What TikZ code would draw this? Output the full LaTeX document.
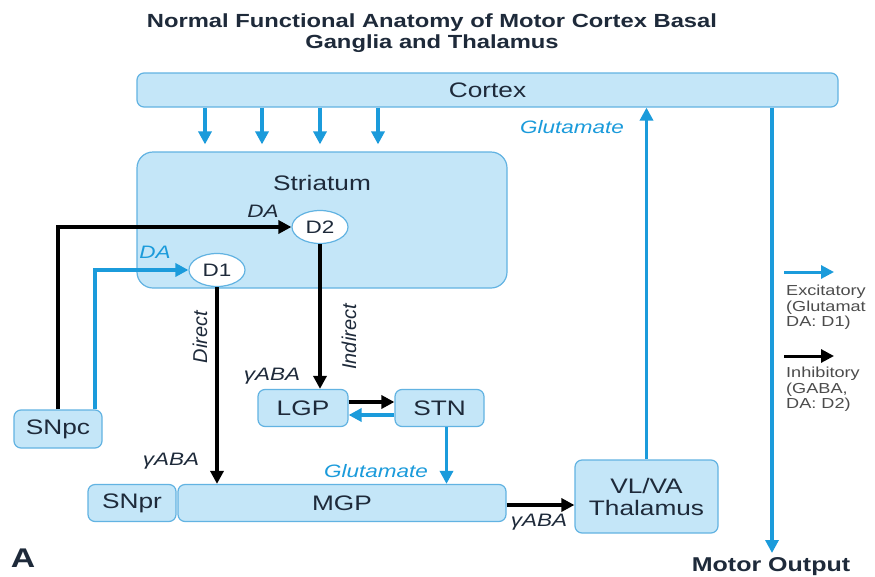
\documentclass[tikz,border=0pt]{standalone}
\usepackage{fontspec}
\setmainfont{Liberation Sans}[FakeStretch=1.25]
\newfontfamily\rotfont{Liberation Sans}
\usetikzlibrary{arrows.meta,shapes.geometric,calc}
\definecolor{boxfill}{HTML}{C4E6F8}
\definecolor{boxdraw}{HTML}{62B3E2}
\definecolor{exc}{HTML}{1B9BDB}
\definecolor{txt}{HTML}{1E2A3A}
\begin{document}
\begin{tikzpicture}[x=1pt,y=-1pt,
  box/.style={draw=boxdraw,fill=boxfill,line width=1.2pt,rounded corners=7pt,inner sep=0pt,font=\fontsize{21}{23}\selectfont,text=txt},
  recep/.style={ellipse,draw=boxdraw,fill=white,line width=1.2pt,minimum width=56pt,minimum height=33pt,inner sep=0pt,font=\fontsize{18}{20}\selectfont,text=txt},
  inh/.style={draw=black,line width=3.5pt,-{Triangle[length=13pt,width=13pt]}},
  excit/.style={draw=exc,line width=3.5pt,-{Triangle[length=13pt,width=13pt]}},
  lab/.style={font=\fontsize{18}{20}\selectfont\itshape,inner sep=0pt},
  rlab/.style={font=\rotfont\fontsize{20}{22}\selectfont\itshape,inner sep=0pt,rotate=90},
  leg/.style={font=\fontsize{14.5}{15.5}\selectfont,text=black!70,align=left,anchor=north west,inner sep=0pt}]
\useasboundingbox (0,0) rectangle (875,576);
\fill[white] (0,0) rectangle (875,576);

% title
\node[font=\fontsize{19}{21}\selectfont\bfseries,align=center,text=txt] (title) at (432,33)
  {Normal Functional Anatomy of Motor Cortex Basal\\Ganglia and Thalamus};

% boxes
\node[box,minimum width=701pt,minimum height=34pt] (cortex) at (487.5,90) {Cortex};
\node[box,rounded corners=16pt,minimum width=370pt,minimum height=136pt] (striatum) at (322,220) {};
\node[font=\fontsize{21}{23}\selectfont,text=txt] (striatumlab) at (322,183) {Striatum};
\node[recep] (D2) at (320,227) {D2};
\node[recep] (D1) at (217,270) {D1};
\node[box,minimum width=88pt,minimum height=38pt] (SNpc) at (58,429) {SNpc};
\node[box,minimum width=90pt,minimum height=37pt] (LGP) at (303,408) {LGP};
\node[box,minimum width=89pt,minimum height=37pt] (STN) at (439.5,408) {STN};
\node[box,minimum width=88pt,minimum height=37pt] (SNpr) at (132,503) {SNpr};
\node[box,minimum width=328pt,minimum height=37pt] (MGP) at (342,503) {MGP};
\node[box,minimum width=143pt,minimum height=73pt,align=center,font=\fontsize{21}{22}\selectfont] (VL) at (646.5,496.5) {VL/VA\\Thalamus};

% cortex -> striatum
\foreach \xx in {205,262,320,378}{
  \draw[excit,shorten >=7pt] (\xx,0 |- cortex.south) -- (\xx,0 |- striatum.north);
}

% SNpc -> D2 / D1
\draw[inh] (SNpc.north) |- (D2.west);
\draw[excit] (95,0 |- SNpc.north) |- (D1.west);
\node[lab,text=txt] (da2) at (263,211) {DA};
\node[lab,text=exc] (da1) at (155,252) {DA};

% direct / indirect
\draw[inh] (D1.south) -- (D1.south |- MGP.north);
\draw[inh] (D2.south) -- (D2.south |- LGP.north);
\node[rlab,text=txt] (direct) at (200,337) {Direct};
\node[rlab,text=txt] (indirect) at (349,337) {Indirect};
\node[lab,text=txt] (g1) at (272,376) {γABA};
\node[lab,text=txt] (g2) at (171,461) {γABA};

% LGP <-> STN
\draw[inh] ([yshift=6pt]LGP.east) -- ([yshift=6pt]LGP.east -| STN.west);
\draw[excit] ([yshift=-7pt]STN.west) -- ([yshift=-7pt]STN.west -| LGP.east);

% STN -> MGP
\draw[excit] ([xshift=7pt]STN.south) -- ([xshift=7pt]STN.south |- MGP.north);
\node[lab,text=exc] (glu1) at (376,471) {Glutamate};

% MGP -> VL
\draw[inh] ([yshift=-2pt]MGP.east) -- ([yshift=-2pt]MGP.east -| VL.west);
\node[lab,text=txt] (g3) at (539,522) {γABA};

% VL -> cortex
\draw[excit] (VL.north) -- (VL.north |- cortex.south);
\node[lab,text=exc] (glu2) at (572,127) {Glutamate};

% cortex -> motor output
\coordinate (motorend) at (772,553);
\draw[excit] (772,0 |- cortex.south) -- (motorend);
\node[font=\fontsize{20}{22}\selectfont\bfseries,text=txt] (motor) at (771,567) {Motor Output};
\node[font=\fontsize{27}{29}\selectfont\bfseries,text=txt] (A) at (23,558) {A};

% legend
\coordinate (le1) at (784,272);
\coordinate (le2) at (834,272);
\draw[excit,line width=3pt] (le1) -- (le2);
\node[leg] (legexc) at (786,285) {Excitatory\\(Glutamat\\DA: D1)};
\coordinate (li1) at (784,356);
\coordinate (li2) at (834,356);
\draw[inh,line width=3pt] (li1) -- (li2);
\node[leg] (leginh) at (786,367) {Inhibitory\\(GABA,\\DA: D2)};
\end{tikzpicture}
\end{document}
